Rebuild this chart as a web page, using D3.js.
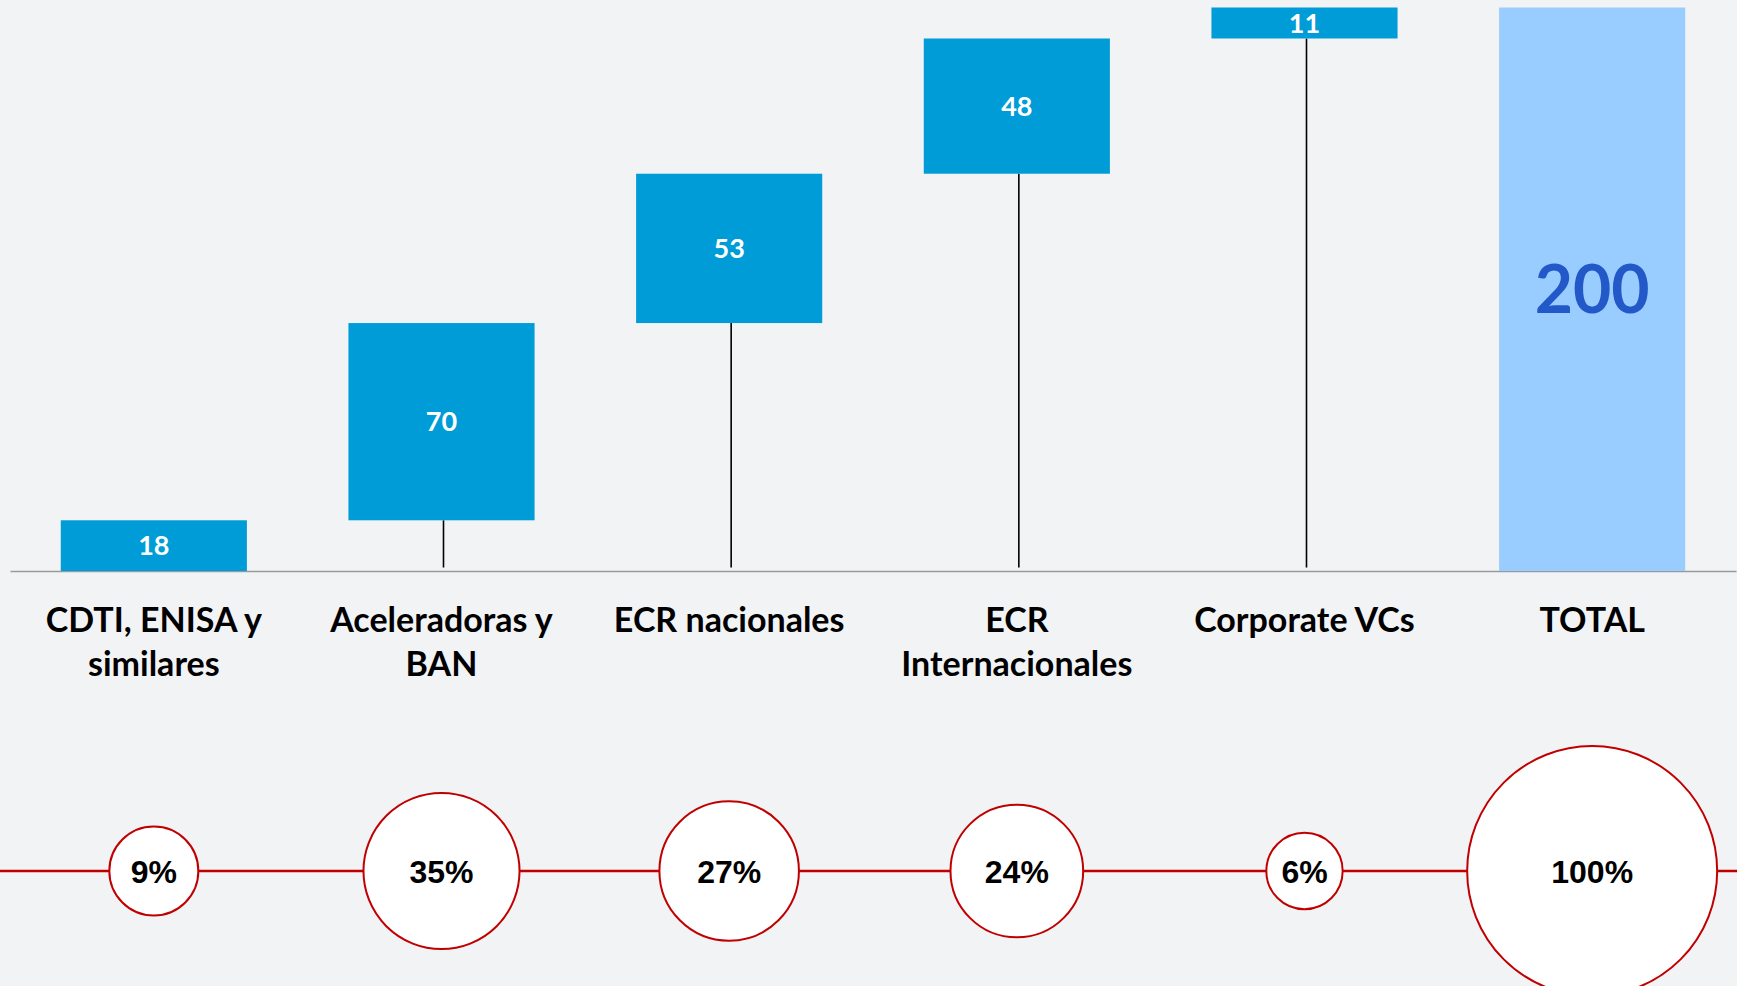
<!DOCTYPE html>
<html><head><meta charset="utf-8">
<script src="https://cdn.jsdelivr.net/npm/d3@7"></script>
<style>html,body{margin:0;padding:0;background:#f2f3f5;overflow:hidden}</style>
</head><body><div id="chart"></div>
<script>
// ---- data ----
const categories = ["CDTI, ENISA y similares","Aceleradoras y BAN","ECR nacionales","ECR Internacionales","Corporate VCs","TOTAL"];
const labelLines = [["CDTI, ENISA y","similares"],["Aceleradoras y","BAN"],["ECR nacionales"],["ECR","Internacionales"],["Corporate VCs"],["TOTAL"]];
const stepValues = [18,70,53,48,11];
const totalValue = 200;
const shares = [9,35,27,24,6,100];

// ---- layout ----
const W = 1737, H = 986;
const svg = d3.select("#chart").append("svg").attr("width", W).attr("height", H);
svg.append("rect").attr("width", W).attr("height", H).attr("fill", "#f2f3f5");

const x = d3.scaleBand().domain(categories).range([10, 1736]).paddingInner(0.353).paddingOuter(0.1765);
const y = d3.scaleLinear().domain([0, totalValue]).range([571, 7.5]);
const r = d3.scaleSqrt().domain([0, 100]).range([10, 125]);
const bw = x.bandwidth();
const cx = c => x(c) + bw / 2;

const ends = d3.cumsum(stepValues);
const bars = stepValues.map((v, i) => ({cat: categories[i], start: ends[i] - v, end: ends[i], value: v, total: false}));
bars.push({cat: categories[5], start: 0, end: totalValue, value: totalValue, total: true});

// axis line
const axis = svg.append("g").attr("transform", `translate(0,${y(0)})`)
  .call(d3.axisBottom(x).tickSize(0).tickFormat(""));
axis.select(".domain").attr("stroke", "#9a9a9a").attr("stroke-width", 1.6);

// connectors
svg.append("g").selectAll("line").data(bars.filter((d, i) => i > 0 && !d.total)).join("line")
  .attr("x1", d => cx(d.cat) + 2).attr("x2", d => cx(d.cat) + 2)
  .attr("y1", d => y(d.start)).attr("y2", y(0) - 3.5)
  .attr("stroke", "#000").attr("stroke-width", 1.6);

// bars
svg.append("g").selectAll("rect").data(bars).join("rect")
  .attr("x", d => x(d.cat)).attr("width", bw)
  .attr("y", d => y(d.end)).attr("height", d => y(d.start) - y(d.end))
  .attr("fill", d => d.total ? "#99ccff" : "#009cd8");

// value labels
svg.append("g").selectAll("text").data(bars).join("text")
  .attr("x", d => cx(d.cat))
  .attr("y", d => (y(d.start) + y(d.end)) / 2 + (d.total ? 0.36 * 66 : 0.36 * 27))
  .attr("text-anchor", "middle")
  .attr("font-family", "Lato, 'Open Sans', sans-serif").attr("font-weight", "bold")
  .attr("font-size", d => d.total ? 66 : 27)
  .attr("fill", d => d.total ? "#2258c8" : "#ffffff")
  .text(d => d.value);

// category labels
const cl = svg.append("g").selectAll("text").data(categories).join("text")
  .attr("text-anchor", "middle")
  .attr("font-family", "Lato, 'Open Sans', sans-serif").attr("font-weight", "bold")
  .attr("font-size", 34).attr("fill", "#000");
cl.selectAll("tspan").data((d, i) => labelLines[i].map(t => ({t, c: d}))).join("tspan")
  .attr("x", d => cx(d.c)).attr("y", (d, j) => 631.5 + j * 44)
  .text(d => d.t);

// share line and circles
const cy = 871;
svg.append("line").attr("x1", 0).attr("x2", W).attr("y1", cy).attr("y2", cy)
  .attr("stroke", "#c00000").attr("stroke-width", 2.5);
const bub = svg.append("g").selectAll("g").data(shares).join("g")
  .attr("transform", (d, i) => `translate(${cx(categories[i])},${cy})`);
bub.append("circle").attr("r", d => r(d)).attr("fill", "#ffffff")
  .attr("stroke", "#c00000").attr("stroke-width", 2);
bub.append("text").attr("text-anchor", "middle").attr("y", 12)
  .attr("font-family", "'Liberation Sans', Arial, sans-serif").attr("font-weight", "bold")
  .attr("font-size", 32).attr("fill", "#000")
  .text(d => d + "%");
</script>
</body></html>
